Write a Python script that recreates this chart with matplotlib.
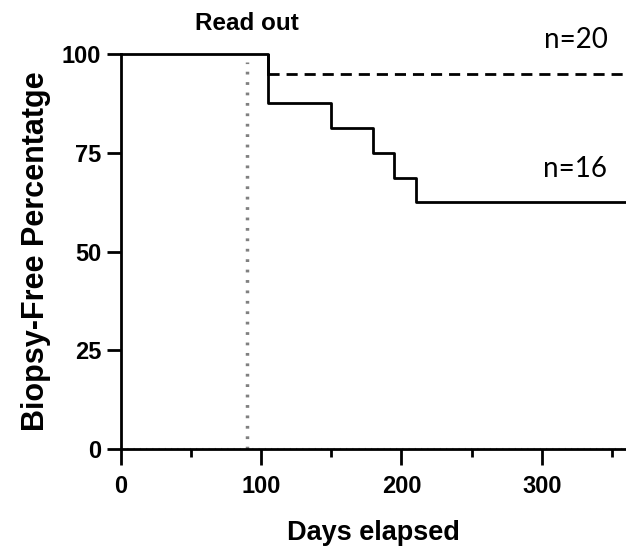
import matplotlib
matplotlib.use("Agg")
import matplotlib.pyplot as plt

plt.rcParams["font.family"] = ["Liberation Sans", "DejaVu Sans"]

# Kaplan-Meier style curves (days, percent biopsy-free)
days_16 = [0, 105, 150, 180, 195, 210, 360]
pct_16 = [100, 87.5, 81.25, 75, 68.75, 62.5, 62.5]
days_20 = [105, 360]
pct_20 = [95, 95]
readout_day = 90
x_ticks = [0, 100, 200, 300]
y_ticks = [0, 25, 50, 75, 100]

fig = plt.figure(figsize=(6.26, 5.53), dpi=100)
ax = fig.add_axes([0.193, 0.1875, 0.807, 0.7148])

# curves
ax.step(days_16, pct_16, where="post", color="black", lw=2, clip_on=False, zorder=3)
ax.plot([days_20[0], days_20[0]], [100, pct_20[0]], color="black", lw=2, zorder=3)
ax.plot(days_20, pct_20, color="black", lw=2, ls=(0, (4, 2.5)), clip_on=False, zorder=3)

# read out marker
ax.plot([readout_day, readout_day], [0, 98], color="#808080", lw=2.5, ls=(0, (0.8, 2.2)), zorder=2)
ax.plot([0, 360], [0, 0], color="#aaaaaa", lw=1.5, ls=(0, (0.6, 2.4)), zorder=1, clip_on=False)
ax.text(readout_day, 106, "Read out", ha="center", va="baseline", fontsize=17.5, fontweight="bold")

ax.text(324, 101.5, "n=20", ha="center", va="baseline", fontsize=20, family=["Lato", "DejaVu Sans"])
ax.text(324, 69, "n=16", ha="center", va="baseline", fontsize=20, family=["Lato", "DejaVu Sans"])

ax.set_xlim(0, 360)
ax.set_ylim(0, 100)
ax.set_xticks(x_ticks)
ax.set_xticks([50, 150, 250, 350], minor=True)
ax.set_yticks(y_ticks)

for s in ["top", "right"]:
    ax.spines[s].set_visible(False)
for s in ["left", "bottom"]:
    ax.spines[s].set_linewidth(2)

ax.tick_params(axis="x", which="major", length=11.5, width=2, pad=7)
ax.tick_params(axis="x", which="minor", length=6, width=2)
ax.tick_params(axis="y", length=10, width=2, pad=4)
for lab in ax.get_xticklabels() + ax.get_yticklabels():
    lab.set_fontsize(17)
    lab.set_fontweight("bold")

ax.set_xlabel("Days elapsed", fontsize=19.5, fontweight="bold", labelpad=16)
ax.set_ylabel("Biopsy-Free Percentatge", fontsize=22, fontweight="bold", labelpad=8)

fig.savefig("out.png", dpi=100)
